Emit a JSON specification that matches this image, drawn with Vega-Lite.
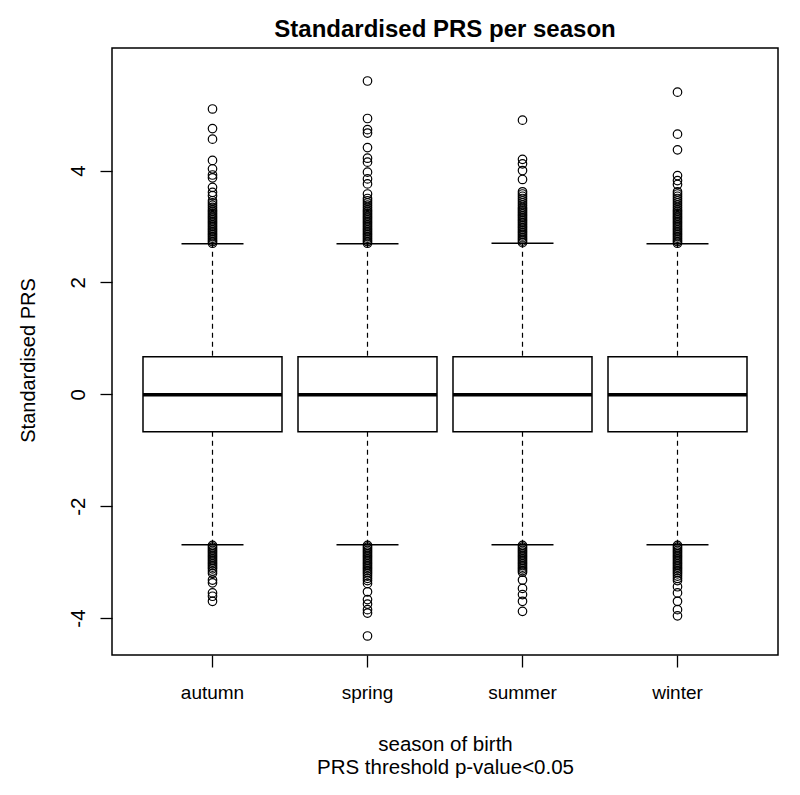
{
  "$schema": "https://vega.github.io/schema/vega-lite/v6.json",
  "width": 666,
  "height": 607,
  "autosize": {"type": "none"},
  "padding": {"left": 112, "top": 48, "right": 22, "bottom": 140},
  "background": "white",
  "config": {
    "font": "Liberation Sans",
    "view": {"stroke": "black", "strokeWidth": 1.5},
    "axis": {"grid": false}
  },
  "title": {
    "text": "Standardised PRS per season",
    "fontSize": 24,
    "fontWeight": "bold",
    "color": "black",
    "anchor": "middle",
    "offset": 6
  },
  "datasets": {
    "stats": [
      {"season": "autumn", "lo": -2.69, "q1": -0.67, "med": -0.01, "q3": 0.67, "hi": 2.69},
      {"season": "spring", "lo": -2.69, "q1": -0.67, "med": -0.01, "q3": 0.67, "hi": 2.69},
      {"season": "summer", "lo": -2.69, "q1": -0.67, "med": -0.01, "q3": 0.67, "hi": 2.70},
      {"season": "winter", "lo": -2.69, "q1": -0.67, "med": -0.01, "q3": 0.67, "hi": 2.69}
    ],
    "out": [
      {"season":"autumn","v":2.70},{"season":"autumn","v":2.73},{"season":"autumn","v":2.76},{"season":"autumn","v":2.79},{"season":"autumn","v":2.82},{"season":"autumn","v":2.85},{"season":"autumn","v":2.88},{"season":"autumn","v":2.91},{"season":"autumn","v":2.94},{"season":"autumn","v":2.97},{"season":"autumn","v":3.00},{"season":"autumn","v":3.03},{"season":"autumn","v":3.06},{"season":"autumn","v":3.09},{"season":"autumn","v":3.12},{"season":"autumn","v":3.15},{"season":"autumn","v":3.18},{"season":"autumn","v":3.21},{"season":"autumn","v":3.24},{"season":"autumn","v":3.27},{"season":"autumn","v":3.30},{"season":"autumn","v":3.34},{"season":"autumn","v":3.38},{"season":"autumn","v":3.42},{"season":"autumn","v":3.46},
      {"season":"autumn","v":3.55},{"season":"autumn","v":3.61},{"season":"autumn","v":3.70},{"season":"autumn","v":3.87},{"season":"autumn","v":3.92},{"season":"autumn","v":4.03},{"season":"autumn","v":4.18},{"season":"autumn","v":4.56},{"season":"autumn","v":4.75},{"season":"autumn","v":5.10},
      {"season":"autumn","v":-2.70},{"season":"autumn","v":-2.73},{"season":"autumn","v":-2.76},{"season":"autumn","v":-2.79},{"season":"autumn","v":-2.82},{"season":"autumn","v":-2.85},{"season":"autumn","v":-2.88},{"season":"autumn","v":-2.91},{"season":"autumn","v":-2.94},{"season":"autumn","v":-2.97},{"season":"autumn","v":-3.00},{"season":"autumn","v":-3.03},{"season":"autumn","v":-3.06},{"season":"autumn","v":-3.09},{"season":"autumn","v":-3.12},{"season":"autumn","v":-3.16},{"season":"autumn","v":-3.20},
      {"season":"autumn","v":-3.32},{"season":"autumn","v":-3.37},{"season":"autumn","v":-3.55},{"season":"autumn","v":-3.61},{"season":"autumn","v":-3.70},

      {"season":"spring","v":2.70},{"season":"spring","v":2.73},{"season":"spring","v":2.76},{"season":"spring","v":2.79},{"season":"spring","v":2.82},{"season":"spring","v":2.85},{"season":"spring","v":2.88},{"season":"spring","v":2.91},{"season":"spring","v":2.94},{"season":"spring","v":2.97},{"season":"spring","v":3.00},{"season":"spring","v":3.03},{"season":"spring","v":3.06},{"season":"spring","v":3.09},{"season":"spring","v":3.12},{"season":"spring","v":3.15},{"season":"spring","v":3.18},{"season":"spring","v":3.21},{"season":"spring","v":3.24},{"season":"spring","v":3.27},{"season":"spring","v":3.30},{"season":"spring","v":3.34},{"season":"spring","v":3.38},{"season":"spring","v":3.42},{"season":"spring","v":3.46},{"season":"spring","v":3.50},
      {"season":"spring","v":3.58},{"season":"spring","v":3.76},{"season":"spring","v":3.85},{"season":"spring","v":3.97},{"season":"spring","v":4.15},{"season":"spring","v":4.22},{"season":"spring","v":4.41},{"season":"spring","v":4.67},{"season":"spring","v":4.73},{"season":"spring","v":4.93},{"season":"spring","v":5.60},
      {"season":"spring","v":-2.70},{"season":"spring","v":-2.73},{"season":"spring","v":-2.76},{"season":"spring","v":-2.79},{"season":"spring","v":-2.82},{"season":"spring","v":-2.85},{"season":"spring","v":-2.88},{"season":"spring","v":-2.91},{"season":"spring","v":-2.94},{"season":"spring","v":-2.97},{"season":"spring","v":-3.00},{"season":"spring","v":-3.03},{"season":"spring","v":-3.06},{"season":"spring","v":-3.09},{"season":"spring","v":-3.12},{"season":"spring","v":-3.15},{"season":"spring","v":-3.18},{"season":"spring","v":-3.21},{"season":"spring","v":-3.25},{"season":"spring","v":-3.29},{"season":"spring","v":-3.33},
      {"season":"spring","v":-3.38},{"season":"spring","v":-3.53},{"season":"spring","v":-3.67},{"season":"spring","v":-3.75},{"season":"spring","v":-3.85},{"season":"spring","v":-3.91},{"season":"spring","v":-4.32},

      {"season":"summer","v":2.71},{"season":"summer","v":2.74},{"season":"summer","v":2.77},{"season":"summer","v":2.80},{"season":"summer","v":2.83},{"season":"summer","v":2.86},{"season":"summer","v":2.89},{"season":"summer","v":2.92},{"season":"summer","v":2.95},{"season":"summer","v":2.98},{"season":"summer","v":3.01},{"season":"summer","v":3.04},{"season":"summer","v":3.07},{"season":"summer","v":3.10},{"season":"summer","v":3.13},{"season":"summer","v":3.16},{"season":"summer","v":3.19},{"season":"summer","v":3.22},{"season":"summer","v":3.25},{"season":"summer","v":3.28},{"season":"summer","v":3.31},{"season":"summer","v":3.34},{"season":"summer","v":3.38},{"season":"summer","v":3.42},{"season":"summer","v":3.46},{"season":"summer","v":3.50},{"season":"summer","v":3.54},{"season":"summer","v":3.58},{"season":"summer","v":3.62},
      {"season":"summer","v":3.84},{"season":"summer","v":4.00},{"season":"summer","v":4.12},{"season":"summer","v":4.20},{"season":"summer","v":4.90},
      {"season":"summer","v":-2.70},{"season":"summer","v":-2.73},{"season":"summer","v":-2.76},{"season":"summer","v":-2.79},{"season":"summer","v":-2.82},{"season":"summer","v":-2.85},{"season":"summer","v":-2.88},{"season":"summer","v":-2.91},{"season":"summer","v":-2.94},{"season":"summer","v":-2.97},{"season":"summer","v":-3.00},{"season":"summer","v":-3.03},{"season":"summer","v":-3.06},{"season":"summer","v":-3.09},{"season":"summer","v":-3.12},{"season":"summer","v":-3.15},{"season":"summer","v":-3.18},
      {"season":"summer","v":-3.32},{"season":"summer","v":-3.47},{"season":"summer","v":-3.58},{"season":"summer","v":-3.70},{"season":"summer","v":-3.88},

      {"season":"winter","v":2.70},{"season":"winter","v":2.73},{"season":"winter","v":2.76},{"season":"winter","v":2.79},{"season":"winter","v":2.82},{"season":"winter","v":2.85},{"season":"winter","v":2.88},{"season":"winter","v":2.91},{"season":"winter","v":2.94},{"season":"winter","v":2.97},{"season":"winter","v":3.00},{"season":"winter","v":3.03},{"season":"winter","v":3.06},{"season":"winter","v":3.09},{"season":"winter","v":3.12},{"season":"winter","v":3.15},{"season":"winter","v":3.18},{"season":"winter","v":3.21},{"season":"winter","v":3.24},{"season":"winter","v":3.27},{"season":"winter","v":3.30},{"season":"winter","v":3.34},{"season":"winter","v":3.38},{"season":"winter","v":3.42},{"season":"winter","v":3.46},{"season":"winter","v":3.50},{"season":"winter","v":3.54},{"season":"winter","v":3.58},{"season":"winter","v":3.62},
      {"season":"winter","v":3.75},{"season":"winter","v":3.82},{"season":"winter","v":3.91},{"season":"winter","v":4.37},{"season":"winter","v":4.65},{"season":"winter","v":5.40},
      {"season":"winter","v":-2.70},{"season":"winter","v":-2.73},{"season":"winter","v":-2.76},{"season":"winter","v":-2.79},{"season":"winter","v":-2.82},{"season":"winter","v":-2.85},{"season":"winter","v":-2.88},{"season":"winter","v":-2.91},{"season":"winter","v":-2.94},{"season":"winter","v":-2.97},{"season":"winter","v":-3.00},{"season":"winter","v":-3.03},{"season":"winter","v":-3.06},{"season":"winter","v":-3.09},{"season":"winter","v":-3.12},{"season":"winter","v":-3.15},{"season":"winter","v":-3.18},{"season":"winter","v":-3.21},{"season":"winter","v":-3.25},{"season":"winter","v":-3.29},{"season":"winter","v":-3.33},
      {"season":"winter","v":-3.44},{"season":"winter","v":-3.55},{"season":"winter","v":-3.70},{"season":"winter","v":-3.85},{"season":"winter","v":-3.96}
    ]
  },
  "encoding": {
    "x": {
      "field": "season",
      "type": "nominal",
      "sort": ["autumn", "spring", "summer", "winter"],
      "scale": {"type": "band", "paddingInner": 0.1032, "paddingOuter": 0.2},
      "axis": {
        "title": ["season of birth", "PRS threshold p-value<0.05"],
        "titleFontSize": 20.5,
        "titleFontWeight": "normal",
        "titleColor": "black",
        "titleLineHeight": 23,
        "titlePadding": 32,
        "labelFontSize": 19,
        "labelColor": "black",
        "labelAngle": 0,
        "labelPadding": 16,
        "tickColor": "black",
        "tickSize": 12,
        "tickWidth": 1.3,
        "domain": false
      }
    }
  },
  "layer": [
    {
      "data": {"name": "stats"},
      "mark": {"type": "rule", "color": "black", "strokeWidth": 1.2, "strokeDash": [5, 4]},
      "encoding": {
        "y": {
          "field": "lo",
          "type": "quantitative",
          "scale": {"domain": [-4.66, 6.19], "nice": false, "zero": false},
          "axis": {
            "title": "Standardised PRS",
            "titleFontSize": 20,
            "titleFontWeight": "normal",
            "titleColor": "black",
            "titlePadding": 30,
            "titleY": 312,
            "values": [-4, -2, 0, 2, 4],
            "labelExpr": "'' + datum.value",
            "labelFontSize": 20.5,
            "labelColor": "black",
            "labelAngle": -90,
            "labelAlign": "center",
            "labelBaseline": "bottom",
            "labelPadding": 12,
            "tickColor": "black",
            "tickSize": 12,
            "tickWidth": 1.3,
            "domain": false
          }
        },
        "y2": {"field": "hi"}
      }
    },
    {
      "data": {"name": "stats"},
      "mark": {"type": "bar", "fill": "white", "stroke": "black", "strokeWidth": 1.5},
      "encoding": {
        "y": {"field": "q1", "type": "quantitative"},
        "y2": {"field": "q3"}
      }
    },
    {
      "data": {"name": "stats"},
      "mark": {"type": "tick", "color": "black", "opacity": 1, "size": 139, "thickness": 3.5, "orient": "horizontal"},
      "encoding": {
        "y": {"field": "med", "type": "quantitative"}
      }
    },
    {
      "data": {"name": "stats"},
      "mark": {"type": "tick", "color": "black", "opacity": 1, "size": 62, "thickness": 1.5, "orient": "horizontal"},
      "encoding": {
        "y": {"field": "lo", "type": "quantitative"}
      }
    },
    {
      "data": {"name": "stats"},
      "mark": {"type": "tick", "color": "black", "opacity": 1, "size": 62, "thickness": 1.5, "orient": "horizontal"},
      "encoding": {
        "y": {"field": "hi", "type": "quantitative"}
      }
    },
    {
      "data": {"name": "out"},
      "mark": {"type": "point", "shape": "circle", "filled": false, "stroke": "black", "strokeWidth": 1.2, "size": 72, "opacity": 1},
      "encoding": {
        "y": {"field": "v", "type": "quantitative"}
      }
    }
  ]
}
